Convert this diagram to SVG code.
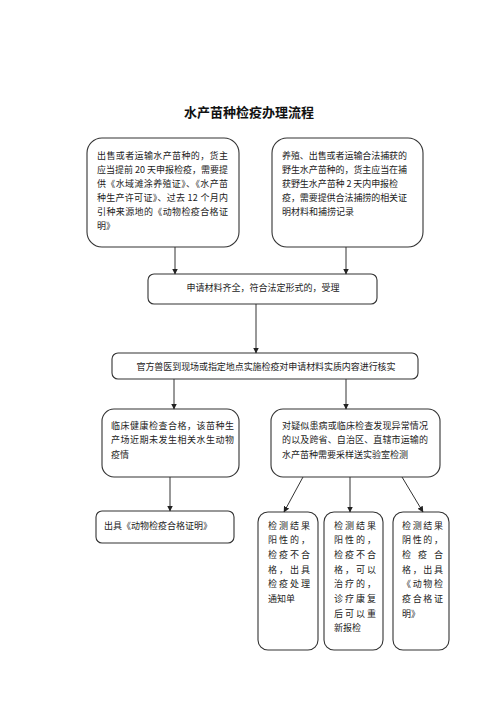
<svg xmlns="http://www.w3.org/2000/svg" width="500" height="707" viewBox="0 0 500 707">
<defs>
<marker id="ah" markerWidth="6" markerHeight="6" refX="5.5" refY="3" orient="auto" markerUnits="userSpaceOnUse">
<path d="M0,0 L6,3 L0,6 Z" fill="#222"/>
</marker>
<style>
.box{fill:#fff;stroke:#333;stroke-width:1.1}
.t{font-family:"Noto Sans CJK SC","Noto Sans",sans-serif;font-size:9px;fill:#222}
.title{font-family:"Noto Sans CJK SC","Noto Sans",sans-serif;font-size:13px;font-weight:bold;fill:#111}
.c{stroke:#333;stroke-width:1;fill:none;marker-end:url(#ah)}
</style>
</defs>
<rect width="500" height="707" fill="#fff"/>
<text class="title" x="249" y="117" text-anchor="middle">水产苗种检疫办理流程</text>

<g id="n1">
<rect class="box" x="87" y="138" width="152" height="109" rx="15"/>
<text class="t" x="97" y="159" textLength="131" lengthAdjust="spacing">出售或者运输水产苗种的，货主</text>
<text class="t" x="97" y="173" textLength="131" lengthAdjust="spacing">应当提前 20 天申报检疫，需要提</text>
<text class="t" x="97" y="187" textLength="131" lengthAdjust="spacing">供《水域滩涂养殖证》、《水产苗</text>
<text class="t" x="97" y="201" textLength="131" lengthAdjust="spacing">种生产许可证》、过去 12 个月内</text>
<text class="t" x="97" y="215" textLength="131" lengthAdjust="spacing">引种来源地的《动物检疫合格证</text>
<text class="t" x="97" y="229">明》</text>
</g>

<g id="n2">
<rect class="box" x="272" y="138" width="151" height="109" rx="15"/>
<text class="t" x="282" y="159" textLength="125" lengthAdjust="spacing">养殖、出售或者运输合法捕获的</text>
<text class="t" x="282" y="173" textLength="125" lengthAdjust="spacing">野生水产苗种的，货主应当在捕</text>
<text class="t" x="282" y="187" textLength="116" lengthAdjust="spacing">获野生水产苗种 2 天内申报检</text>
<text class="t" x="282" y="201" textLength="125" lengthAdjust="spacing">疫，需要提供合法捕捞的相关证</text>
<text class="t" x="282" y="215">明材料和捕捞记录</text>
</g>

<g id="n3">
<rect class="box" x="148" y="274" width="229" height="30" rx="6"/>
<text class="t" x="263" y="290.5" text-anchor="middle">申请材料齐全，符合法定形式的，受理</text>
</g>

<g id="n4">
<rect class="box" x="112" y="353" width="306" height="26" rx="6"/>
<text class="t" x="266" y="369.5" text-anchor="middle" textLength="259" lengthAdjust="spacing">官方兽医到现场或指定地点实施检疫对申请材料实质内容进行核实</text>
</g>

<g id="n5">
<rect class="box" x="102" y="409" width="137" height="68" rx="12"/>
<text class="t" x="111" y="428.5" textLength="123" lengthAdjust="spacing">临床健康检查合格，该苗种生</text>
<text class="t" x="111" y="443" textLength="123" lengthAdjust="spacing">产场近期未发生相关水生动物</text>
<text class="t" x="111" y="457.5">疫情</text>
</g>

<g id="n6">
<rect class="box" x="271" y="409" width="169" height="68" rx="12"/>
<text class="t" x="282" y="428.5" textLength="146" lengthAdjust="spacing">对疑似患病或临床检查发现异常情况</text>
<text class="t" x="282" y="443" textLength="146" lengthAdjust="spacing">的以及跨省、自治区、直辖市运输的</text>
<text class="t" x="282" y="457.5">水产苗种需要采样送实验室检测</text>
</g>

<g id="n7">
<rect class="box" x="96" y="511" width="138" height="32" rx="6"/>
<text class="t" x="104" y="528.5">出具《动物检疫合格证明》</text>
</g>

<g id="n8">
<rect class="box" x="258" y="512" width="60" height="138" rx="10"/>
<text class="t" x="268" y="528.5" textLength="42" lengthAdjust="spacing">检测结果</text>
<text class="t" x="268" y="543.2" textLength="42" lengthAdjust="spacing">阳性的，</text>
<text class="t" x="268" y="557.9" textLength="42" lengthAdjust="spacing">检疫不合</text>
<text class="t" x="268" y="572.6" textLength="42" lengthAdjust="spacing">格，出具</text>
<text class="t" x="268" y="587.3" textLength="42" lengthAdjust="spacing">检疫处理</text>
<text class="t" x="268" y="602">通知单</text>
</g>

<g id="n9">
<rect class="box" x="324" y="512" width="59" height="138" rx="10"/>
<text class="t" x="334" y="528.5" textLength="42" lengthAdjust="spacing">检测结果</text>
<text class="t" x="334" y="543.2" textLength="42" lengthAdjust="spacing">阳性的，</text>
<text class="t" x="334" y="557.9" textLength="42" lengthAdjust="spacing">检疫不合</text>
<text class="t" x="334" y="572.6" textLength="42" lengthAdjust="spacing">格，可以</text>
<text class="t" x="334" y="587.3" textLength="42" lengthAdjust="spacing">治疗的，</text>
<text class="t" x="334" y="602" textLength="42" lengthAdjust="spacing">诊疗康复</text>
<text class="t" x="334" y="616.7" textLength="42" lengthAdjust="spacing">后可以重</text>
<text class="t" x="334" y="631.4">新报检</text>
</g>

<g id="n10">
<rect class="box" x="393" y="512" width="56" height="138" rx="10"/>
<text class="t" x="402" y="528.5" textLength="41" lengthAdjust="spacing">检测结果</text>
<text class="t" x="402" y="543.2" textLength="41" lengthAdjust="spacing">阴性的，</text>
<text class="t" x="402" y="557.9" textLength="41" lengthAdjust="spacing">检疫合</text>
<text class="t" x="402" y="572.6" textLength="41" lengthAdjust="spacing">格，出具</text>
<text class="t" x="402" y="587.3" textLength="41" lengthAdjust="spacing">《动物检</text>
<text class="t" x="402" y="602" textLength="41" lengthAdjust="spacing">疫合格证</text>
<text class="t" x="402" y="616.7">明》</text>
</g>

<g id="connectors">
<line class="c" x1="175" y1="247" x2="175" y2="274"/>
<line class="c" x1="346" y1="247" x2="346" y2="274"/>
<line class="c" x1="256" y1="304" x2="256" y2="353"/>
<line class="c" x1="174" y1="379" x2="174" y2="409"/>
<line class="c" x1="346" y1="379" x2="346" y2="409"/>
<line class="c" x1="170" y1="477" x2="170" y2="511"/>
<line class="c" x1="303" y1="477" x2="284" y2="512"/>
<line class="c" x1="350" y1="477" x2="350" y2="512"/>
<line class="c" x1="402" y1="477" x2="423" y2="512"/>
</g>
</svg>
